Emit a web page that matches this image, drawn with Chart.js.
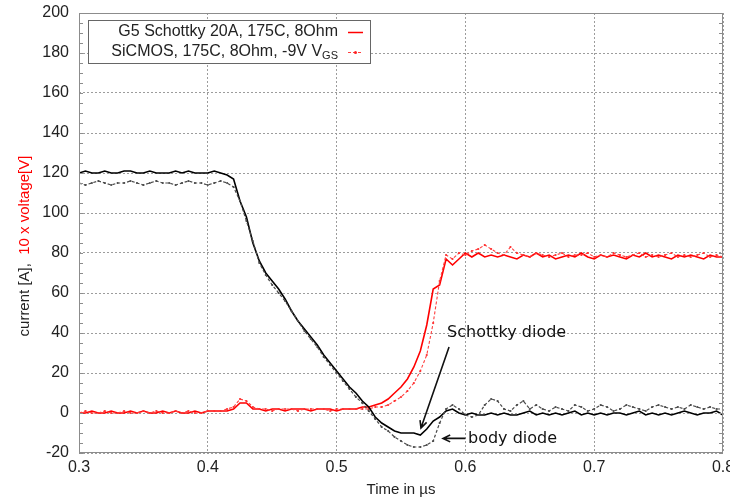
<!DOCTYPE html>
<html>
<head>
<meta charset="utf-8">
<script src="https://cdn.jsdelivr.net/npm/chart.js@4/dist/chart.umd.min.js"></script>
<style>
  html, body { margin: 0; padding: 0; background: #fff; }
  #wrap { width: 730px; height: 501px; }
</style>
</head>
<body>
<div id="wrap"><canvas id="ch_switch" width="730" height="501"></canvas></div>
<script>
// time axis in µs
const time = [
  0.300, 0.305, 0.310, 0.315, 0.320, 0.325, 0.330, 0.335, 0.340, 0.345,
  0.350, 0.355, 0.360, 0.365, 0.370, 0.375, 0.380, 0.385, 0.390, 0.395,
  0.400, 0.405, 0.410, 0.415, 0.420, 0.425, 0.430, 0.435, 0.440, 0.445,
  0.450, 0.455, 0.460, 0.465, 0.470, 0.475, 0.480, 0.485, 0.490, 0.495,
  0.500, 0.505, 0.510, 0.515, 0.520, 0.525, 0.530, 0.535, 0.540, 0.545,
  0.550, 0.555, 0.560, 0.565, 0.570, 0.575, 0.580, 0.585, 0.590, 0.595,
  0.600, 0.605, 0.610, 0.615, 0.620, 0.625, 0.630, 0.635, 0.640, 0.645,
  0.650, 0.655, 0.660, 0.665, 0.670, 0.675, 0.680, 0.685, 0.690, 0.695,
  0.700, 0.705, 0.710, 0.715, 0.720, 0.725, 0.730, 0.735, 0.740, 0.745,
  0.750, 0.755, 0.760, 0.765, 0.770, 0.775, 0.780, 0.785, 0.790, 0.795,
  0.800
];

// current [A] — G5 Schottky (black)
const schottkyCurrent = [
  120, 121, 120, 120, 121, 120, 120, 121, 121, 120,
  120, 121, 120, 120, 120, 121, 120, 121, 120, 120,
  120, 121, 120, 119, 117, 106, 98, 85, 76, 70,
  66, 62, 57, 51, 46, 42, 38, 34, 29, 25,
  21, 17, 13, 10, 6, 3, -2, -5, -7, -9,
  -10, -10, -10, -11, -8, -4, -2, 1, 2, 0,
  -1, 0, -1, -1, 0, -1, 0, -1, -1, 0,
  1, -1, 0, -1, 0, -1, 0, 1, -1, 0,
  -1, 0, -1, 0, 0, -1, 0, 1, -1, 0,
  -1, 0, -1, 0, 1, 0, -1, 0, 0, 1,
  -1
];

// current [A] — SiCMOS body diode (grey, dotted)
const sicmosCurrent = [
  115, 114, 115, 116, 115, 114, 115, 115, 116, 115,
  114, 115, 116, 115, 115, 114, 115, 116, 115, 115,
  114, 115, 116, 115, 113, 106, 96, 86, 75, 69,
  64, 60, 56, 51, 46, 41, 37, 33, 28, 24,
  20, 16, 12, 8, 5, 1, -3, -7, -9, -12,
  -14, -16, -17, -17, -16, -14, -5, 2, 4, 2,
  -1, -2, -1, 4, 7, 6, 2, 1, 4, 6,
  2, 4, 2, 1, 3, 2, 1, 4, 3, 1,
  2, 4, 3, 1, 2, 4, 3, 2, 1, 3,
  4, 3, 2, 3, 2, 4, 3, 2, 3, 2,
  2
];

// 10 x voltage [V] — G5 Schottky (red)
const schottkyVoltage = [
  0, 0, 1, 0, 0, 1, 0, 0, 1, 0,
  1, 0, 0, 1, 0, 1, 0, 0, 1, 0,
  1, 1, 1, 1, 2, 5, 5, 2, 2, 1,
  2, 2, 1, 2, 2, 2, 1, 2, 2, 2,
  1, 2, 2, 2, 3, 3, 4, 5, 7, 10,
  13, 17, 23, 31, 44, 62, 64, 77, 74, 77,
  80, 78, 80, 78, 79, 78, 79, 78, 77, 79,
  78, 80, 78, 79, 77, 78, 79, 78, 80, 78,
  77, 79, 78, 79, 78, 77, 79, 78, 80, 78,
  79, 78, 77, 79, 78, 79, 78, 77, 79, 78,
  78
];

// 10 x voltage [V] — SiCMOS (red, dotted)
const sicmosVoltage = [
  0, 1, 0, 0, 1, 0, 0, 1, 0, 0,
  1, 0, 1, 0, 0, 1, 0, 1, 0, 0,
  1, 1, 1, 2, 3, 7, 6, 3, 2, 2,
  1, 2, 2, 2, 1, 2, 2, 2, 2, 1,
  2, 2, 2, 2, 2, 2, 3, 3, 4, 6,
  8, 11, 15, 21, 29, 45, 66, 79, 77, 80,
  79, 81, 82, 84, 82, 80, 79, 83, 80, 79,
  78, 80, 79, 78, 79, 80, 78, 79, 79, 80,
  78, 79, 78, 80, 79, 78, 79, 80, 78, 79,
  78, 79, 80, 78, 79, 78, 79, 80, 78, 79,
  78
];

const xTicks = { min: 0.3, max: 0.8, step: 0.1 };
const yTicks = { min: -20, max: 200, step: 20, minorStep: 5 };

const legendItems = ['G5 Schottky 20A, 175C, 8Ohm', 'SiCMOS, 175C, 8Ohm, -9V V'];
const notes = [
  { text: 'Schottky diode', x: 0.5858, y: 40, from: [0.5873, 33], to: [0.5655, -7.5] },
  { text: 'body diode', x: 0.602, y: -12.7, from: [0.6000, -12.7], to: [0.5826, -12.7] }
];

const FONT = "'Liberation Sans', Arial, sans-serif";
const pts = arr => time.map((t, i) => ({ x: t, y: arr[i] }));

function arrow(ctx, x1, y1, x2, y2) {
  const a = Math.atan2(y2 - y1, x2 - x1), L = 8;
  ctx.beginPath();
  ctx.moveTo(x1, y1); ctx.lineTo(x2, y2);
  ctx.moveTo(x2 - L * Math.cos(a - 0.45), y2 - L * Math.sin(a - 0.45));
  ctx.lineTo(x2, y2);
  ctx.lineTo(x2 - L * Math.cos(a + 0.45), y2 - L * Math.sin(a + 0.45));
  ctx.stroke();
}

const extras = {
  id: 'extras',
  afterDatasetsDraw(chart) {
    const { ctx, chartArea: ca, scales: { x, y } } = chart;
    ctx.save();

    // frame
    ctx.strokeStyle = '#8c8c8c'; ctx.lineWidth = 1;
    ctx.strokeRect(ca.left + 0.5, ca.top + 0.5, ca.right - ca.left - 1, ca.bottom - ca.top - 1);

    // minor ticks on y
    ctx.beginPath();
    for (let v = yTicks.min; v <= yTicks.max; v += yTicks.minorStep) {
      const py = Math.round(y.getPixelForValue(v)) + 0.5;
      ctx.moveTo(ca.left, py); ctx.lineTo(ca.left + 4, py);
      ctx.moveTo(ca.right, py); ctx.lineTo(ca.right - 4, py);
    }
    ctx.stroke();

    // annotations
    ctx.fillStyle = '#111'; ctx.strokeStyle = '#111'; ctx.lineWidth = 1.6;
    ctx.font = "16px 'DejaVu Sans', Verdana, sans-serif";
    ctx.textAlign = 'left'; ctx.textBaseline = 'middle';
    notes.forEach(n => {
      ctx.fillText(n.text, x.getPixelForValue(n.x), y.getPixelForValue(n.y));
      arrow(ctx, x.getPixelForValue(n.from[0]), y.getPixelForValue(n.from[1]),
                 x.getPixelForValue(n.to[0]), y.getPixelForValue(n.to[1]));
    });

    // legend box
    const bx = ca.left + 9, by = ca.top + 7, bw = 282, bh = 43;
    ctx.fillStyle = '#fff'; ctx.fillRect(bx, by, bw, bh);
    ctx.strokeStyle = '#666'; ctx.lineWidth = 1;
    ctx.strokeRect(bx + 0.5, by + 0.5, bw, bh);
    ctx.font = '16px ' + FONT; ctx.fillStyle = '#222';
    ctx.textAlign = 'right';
    const tx = bx + 250;
    ctx.fillText(legendItems[0], tx, by + 12);
    // second line with subscript
    ctx.font = '11px ' + FONT;
    const subW = ctx.measureText('GS').width;
    ctx.fillText('GS', tx, by + 36);
    ctx.font = '16px ' + FONT;
    ctx.fillText(legendItems[1], tx - subW, by + 32);
    // samples
    ctx.strokeStyle = '#ff0000'; ctx.lineWidth = 1.5;
    ctx.beginPath(); ctx.moveTo(bx + 260, by + 12.5); ctx.lineTo(bx + 275, by + 12.5); ctx.stroke();
    ctx.strokeStyle = '#ff4040'; ctx.lineWidth = 1; ctx.setLineDash([3, 2]);
    ctx.beginPath(); ctx.moveTo(bx + 260, by + 32.5); ctx.lineTo(bx + 275, by + 32.5); ctx.stroke();
    ctx.setLineDash([]);
    ctx.fillStyle = '#ff2020';
    ctx.beginPath(); ctx.arc(bx + 267.5, by + 32.5, 1.5, 0, Math.PI * 2); ctx.fill();

    // y title, two colours
    ctx.font = '15px ' + FONT;
    const p1 = 'current [A],  ', p2 = '10 x voltage[V]';
    const w1 = ctx.measureText(p1).width, w2 = ctx.measureText(p2).width;
    ctx.translate(25, 246); ctx.rotate(-Math.PI / 2);
    ctx.textAlign = 'left';
    let sx = -(w1 + w2) / 2;
    ctx.fillStyle = '#222'; ctx.fillText(p1, sx, 0);
    ctx.fillStyle = '#ff0000'; ctx.fillText(p2, sx + w1, 0);
    ctx.restore();
  }
};

const gridDash = { display: false, dash: [2, 2] };

new Chart(document.getElementById('ch_switch').getContext('2d'), {
  type: 'line',
  data: {
    datasets: [
      {
        label: 'SiCMOS current',
        data: pts(sicmosCurrent),
        borderColor: '#4a4a4a',
        borderWidth: 1.2,
        borderDash: [3, 2],
        pointRadius: 1.1,
        pointBorderWidth: 0,
        pointBackgroundColor: '#4a4a4a',
        tension: 0
      },
      {
        label: 'Schottky current',
        data: pts(schottkyCurrent),
        borderColor: '#000',
        borderWidth: 1.6,
        pointRadius: 0,
        tension: 0
      },
      {
        label: 'SiCMOS voltage',
        data: pts(sicmosVoltage),
        borderColor: '#ff4040',
        borderWidth: 1.1,
        borderDash: [3, 2],
        pointRadius: 1.1,
        pointBorderWidth: 0,
        pointBackgroundColor: '#ff3030',
        tension: 0
      },
      {
        label: 'Schottky voltage',
        data: pts(schottkyVoltage),
        borderColor: '#ff0000',
        borderWidth: 1.6,
        pointRadius: 0,
        tension: 0
      }
    ]
  },
  options: {
    responsive: false,
    animation: false,
    devicePixelRatio: 1,
    layout: { padding: { left: 0, right: 7, top: 13, bottom: 2 } },
    plugins: { legend: { display: false }, tooltip: { enabled: false } },
    scales: {
      x: {
        type: 'linear',
        min: xTicks.min, max: xTicks.max,
        ticks: {
          stepSize: xTicks.step, maxRotation: 0, autoSkip: false, padding: 5,
          color: '#222', font: { family: FONT, size: 16 },
          callback: v => (+v).toFixed(1)
        },
        grid: { color: '#9c9c9c', drawTicks: false },
        border: gridDash,
        title: { display: true, text: 'Time in µs', color: '#222', font: { family: FONT, size: 15 }, padding: { top: 0, bottom: 0 } },
        afterFit: s => { s.height = 46; s.paddingLeft = 0; s.paddingRight = 0; }
      },
      y: {
        min: yTicks.min, max: yTicks.max,
        ticks: { stepSize: yTicks.step, padding: 10, color: '#222', font: { family: FONT, size: 16 } },
        grid: { color: '#9c9c9c', drawTicks: false },
        border: gridDash,
        afterFit: s => { s.width = 79; s.paddingTop = 0; s.paddingBottom = 0; }
      }
    }
  },
  plugins: [extras]
});
</script>
</body>
</html>
